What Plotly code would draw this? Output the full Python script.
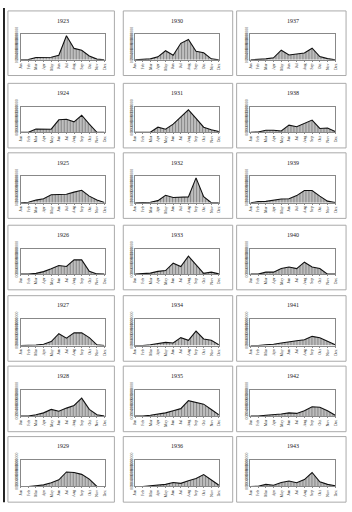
import plotly.graph_objects as go

MONTHS = ["Jan", "Feb", "Mar", "Apr", "May", "Jun", "Jul", "Aug", "Sep", "Oct", "Nov", "Dec"]

# values in thousands
YEARS = [1923, 1924, 1925, 1926, 1927, 1928, 1929,
         1930, 1931, 1932, 1933, 1934, 1935, 1936,
         1937, 1938, 1939, 1940, 1941, 1942, 1943]

v1923 = [0, 10, 90, 100, 100, 180, 950, 450, 380, 150, 30, 0]
v1924 = [0, 0, 130, 120, 120, 490, 510, 410, 670, 320, 0, 0]
v1925 = [0, 20, 100, 150, 300, 320, 320, 400, 470, 250, 100, 10]
v1926 = [0, 0, 30, 100, 210, 340, 300, 560, 560, 110, 10, 0]
v1927 = [0, 0, 20, 50, 150, 450, 280, 480, 480, 300, 30, 0]
v1928 = [0, 0, 50, 120, 250, 180, 300, 400, 680, 250, 50, 0]
v1929 = [0, 0, 30, 60, 140, 250, 550, 530, 460, 280, 0, 0]
v1930 = [0, 10, 40, 120, 360, 180, 650, 800, 340, 280, 40, 0]
v1931 = [0, 0, 0, 200, 120, 320, 600, 880, 550, 200, 100, 30]
v1932 = [0, 10, 20, 80, 280, 200, 200, 220, 940, 230, 0, 0]
v1933 = [0, 10, 40, 110, 140, 430, 300, 710, 370, 30, 80, 10]
v1934 = [0, 0, 30, 80, 120, 100, 300, 200, 550, 250, 200, 30]
v1935 = [0, 0, 30, 80, 120, 200, 280, 580, 520, 450, 250, 50]
v1936 = [0, 0, 30, 50, 80, 150, 120, 220, 300, 450, 250, 50]
v1937 = [0, 10, 40, 80, 380, 190, 230, 270, 460, 130, 50, 0]
v1938 = [0, 10, 80, 80, 50, 280, 220, 350, 480, 150, 170, 30]
v1939 = [0, 40, 50, 90, 140, 150, 270, 460, 460, 250, 60, 10]
v1940 = [0, 0, 80, 80, 220, 280, 220, 470, 280, 220, 0, 0]
v1941 = [0, 0, 30, 50, 100, 150, 180, 220, 350, 300, 150, 30]
v1942 = [0, 0, 30, 50, 80, 120, 100, 200, 350, 330, 200, 30]
v1943 = [0, 10, 80, 50, 150, 210, 140, 260, 530, 180, 80, 30]

SERIES = [v1923, v1924, v1925, v1926, v1927, v1928, v1929,
          v1930, v1931, v1932, v1933, v1934, v1935, v1936,
          v1937, v1938, v1939, v1940, v1941, v1942, v1943]

W, H = 352, 512
COL_X = [(18, 103), (134, 219), (251, 337)]
COL_BOX = [(5, 113), (122, 233), (237, 348)]
ROW_Y = [(27, 53), (101, 127), (172, 199), (246, 272), (318, 345), (390, 417), (462, 489)]


def px(x):
    return x / W


def py(y):
    return 1 - y / H


fig = go.Figure()
layout = dict(width=W, height=H, margin=dict(l=0, r=0, t=0, b=0),
              paper_bgcolor="white", plot_bgcolor="white", showlegend=False)
shapes = []
annotations = []

for idx, (year, vals) in enumerate(zip(YEARS, SERIES)):
    col, row = idx // 7, idx % 7
    n = "" if idx == 0 else str(idx + 1)
    x0, x1 = COL_X[col]
    y0, y1 = ROW_Y[row]
    fig.add_trace(go.Scatter(
        x=MONTHS, y=vals, xaxis="x" + n, yaxis="y" + n, mode="lines",
        line=dict(color="#111", width=1.1), fill="tozeroy",
        fillcolor="#bdbdbd",
        fillpattern=dict(shape="|", fgcolor="#4a4a4a", bgcolor="#c4c4c4", size=3, solidity=0.4),
        hoverinfo="skip"))
    layout["xaxis" + n] = dict(
        domain=[px(x0), px(x1)], anchor="y" + n, range=[0, 11],
        showgrid=False, zeroline=False, showline=True, mirror=True,
        linecolor="#888", linewidth=1, tickangle=-90, ticks="outside",
        ticklen=1, tickcolor="#888",
        tickfont=dict(size=4, family="Liberation Serif", color="#222"))
    layout["yaxis" + n] = dict(
        domain=[py(y1), py(y0)], anchor="x" + n, range=[0, 1000],
        dtick=200, ticksuffix="000", showgrid=False, zeroline=False,
        showline=True, mirror=True, linecolor="#888", linewidth=1,
        tickangle=-90, ticks="", tickfont=dict(size=4, family="Liberation Serif", color="#333"))
    bx0, bx1 = COL_BOX[col]
    shapes.append(dict(type="rect", xref="paper", yref="paper",
                       x0=px(bx0), x1=px(bx1), y0=py(y1 + 16), y1=py(y0 - 24),
                       line=dict(color="#aaa", width=1)))
    annotations.append(dict(text=str(year), xref="paper", yref="paper",
                            x=px((x0 + x1) / 2), y=py(y0 - 14), showarrow=False,
                            xanchor="center", yanchor="middle",
                            font=dict(size=6, family="Liberation Serif", color="#222")))

shapes.append(dict(type="rect", xref="paper", yref="paper", x0=0, x1=px(2),
                   y0=py(505), y1=1, fillcolor="#222", line=dict(width=0)))

layout["shapes"] = shapes
layout["annotations"] = annotations
fig.update_layout(**layout)
fig.write_html("out.html")
